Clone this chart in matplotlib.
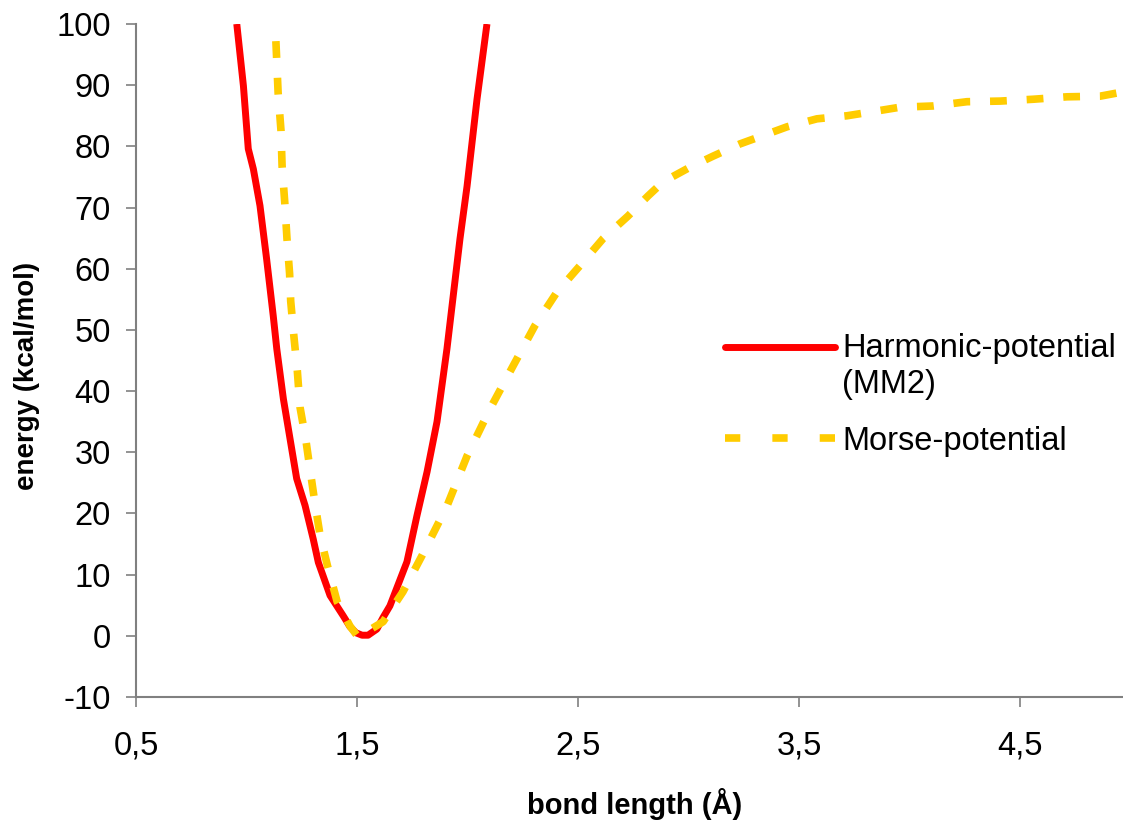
import matplotlib
matplotlib.use("Agg")
import matplotlib.pyplot as plt

# ---- data ----
harm_x = [0.956, 0.986, 1.008, 1.031, 1.061, 1.091, 1.121, 1.137, 1.167, 1.197,
          1.227, 1.265, 1.302, 1.325, 1.378, 1.437, 1.468, 1.495, 1.523, 1.550,
          1.590, 1.618, 1.649, 1.726, 1.771, 1.817, 1.862, 1.907, 1.966, 1.998,
          2.043, 2.088]
harm_y = [100.0, 89.9, 79.6, 76.3, 70.3, 61.6, 52.3, 46.9, 38.7, 32.2,
          25.7, 21.3, 15.8, 12.0, 6.6, 3.3, 1.5, 0.5, 0.1, 0.1,
          1.1, 3.0, 4.9, 12.1, 19.6, 26.8, 35.0, 46.9, 64.9, 73.5,
          87.7, 100.0]

morse_x = [1.133, 1.143, 1.156, 1.161, 1.173, 1.183, 1.195, 1.200, 1.214, 1.230,
           1.242, 1.269, 1.287, 1.310, 1.333, 1.366, 1.410, 1.468, 1.505, 1.618,
           1.708, 1.794, 1.907, 1.998, 2.102, 2.206, 2.305, 2.405, 2.509, 2.613,
           2.726, 2.817, 2.885, 3.007, 3.111, 3.233, 3.355, 3.446, 3.581, 3.717,
           3.821, 3.957, 4.106, 4.260, 4.410, 4.559, 4.713, 4.862, 4.966]
morse_y = [97.2, 88.8, 82.6, 76.8, 70.9, 65.0, 59.2, 54.7, 49.1, 43.3,
           37.4, 31.9, 27.3, 21.6, 16.4, 11.5, 5.6, 1.6, -0.2, 2.3,
           7.2, 13.1, 21.2, 29.4, 37.1, 44.1, 50.7, 56.2, 60.5, 64.9,
           68.6, 71.9, 74.2, 76.6, 78.4, 80.4, 82.0, 83.2, 84.5, 85.0,
           85.6, 86.4, 86.6, 87.3, 87.4, 87.7, 88.1, 88.2, 88.9]

x_ticks = [0.5, 1.5, 2.5, 3.5, 4.5]
x_tick_labels = ["0,5", "1,5", "2,5", "3,5", "4,5"]
y_ticks = [-10, 0, 10, 20, 30, 40, 50, 60, 70, 80, 90, 100]
y_tick_labels = [str(v) for v in y_ticks]

series_labels = ["Harmonic-potential\n(MM2)", "Morse-potential"]

# ---- style ----
plt.rcParams['font.family'] = ['Liberation Sans', 'DejaVu Sans']

fig = plt.figure(figsize=(11.23, 8.22), dpi=100)
ax = fig.add_axes([136/1123, 1 - 697/822, 1 - 136/1123, (697 - 24)/822])

ax.plot(harm_x, harm_y, color="#FF0000", lw=5.0, solid_capstyle="butt",
        solid_joinstyle="round", label=series_labels[0])
ax.plot(morse_x, morse_y, color="#FFCC00", lw=5.5, linestyle=(0, (2.2, 2.6)),
        dash_capstyle="butt", label=series_labels[1])

ax.set_xlim(0.5, 4.966)
ax.set_ylim(-10, 100)
ax.set_xticks(x_ticks)
ax.set_xticklabels(x_tick_labels)
ax.set_yticks(y_ticks)
ax.set_yticklabels(y_tick_labels)

for s in ["top", "right"]:
    ax.spines[s].set_visible(False)
for s in ["left", "bottom"]:
    ax.spines[s].set_color("#808080")
    ax.spines[s].set_linewidth(1.5)

ax.tick_params(axis="both", direction="out", length=7, width=1.2,
               color="#808080", labelsize=23.5, labelcolor="black")
ax.tick_params(axis="x", pad=17)
ax.tick_params(axis="y", pad=11)

ax.set_xlabel("bond length (Å)", fontsize=21, fontweight="bold")
ax.set_ylabel("energy (kcal/mol)", fontsize=20, fontweight="bold")
ax.xaxis.set_label_coords(0.5056, -0.135)
ax.yaxis.set_label_coords(-0.097, 0.477)

fs = 23.5
leg = ax.legend(loc="upper left", bbox_to_anchor=(0.597, 0.541), frameon=False,
                fontsize=fs, handlelength=3.37, handletextpad=0.21,
                labelspacing=0.8, borderpad=0, borderaxespad=0)
for t in leg.get_texts():
    t.set_linespacing(1.2)
# align the red handle with the first line of its two-line label
hl = leg.get_lines()
hl[0].set_ydata([v + 0.6 * fs for v in hl[0].get_ydata()])
hl[0].set_solid_capstyle("round")
hl[1].set_dashes((2.0, 4.2))

fig.savefig("out.png", dpi=100, facecolor="white")
